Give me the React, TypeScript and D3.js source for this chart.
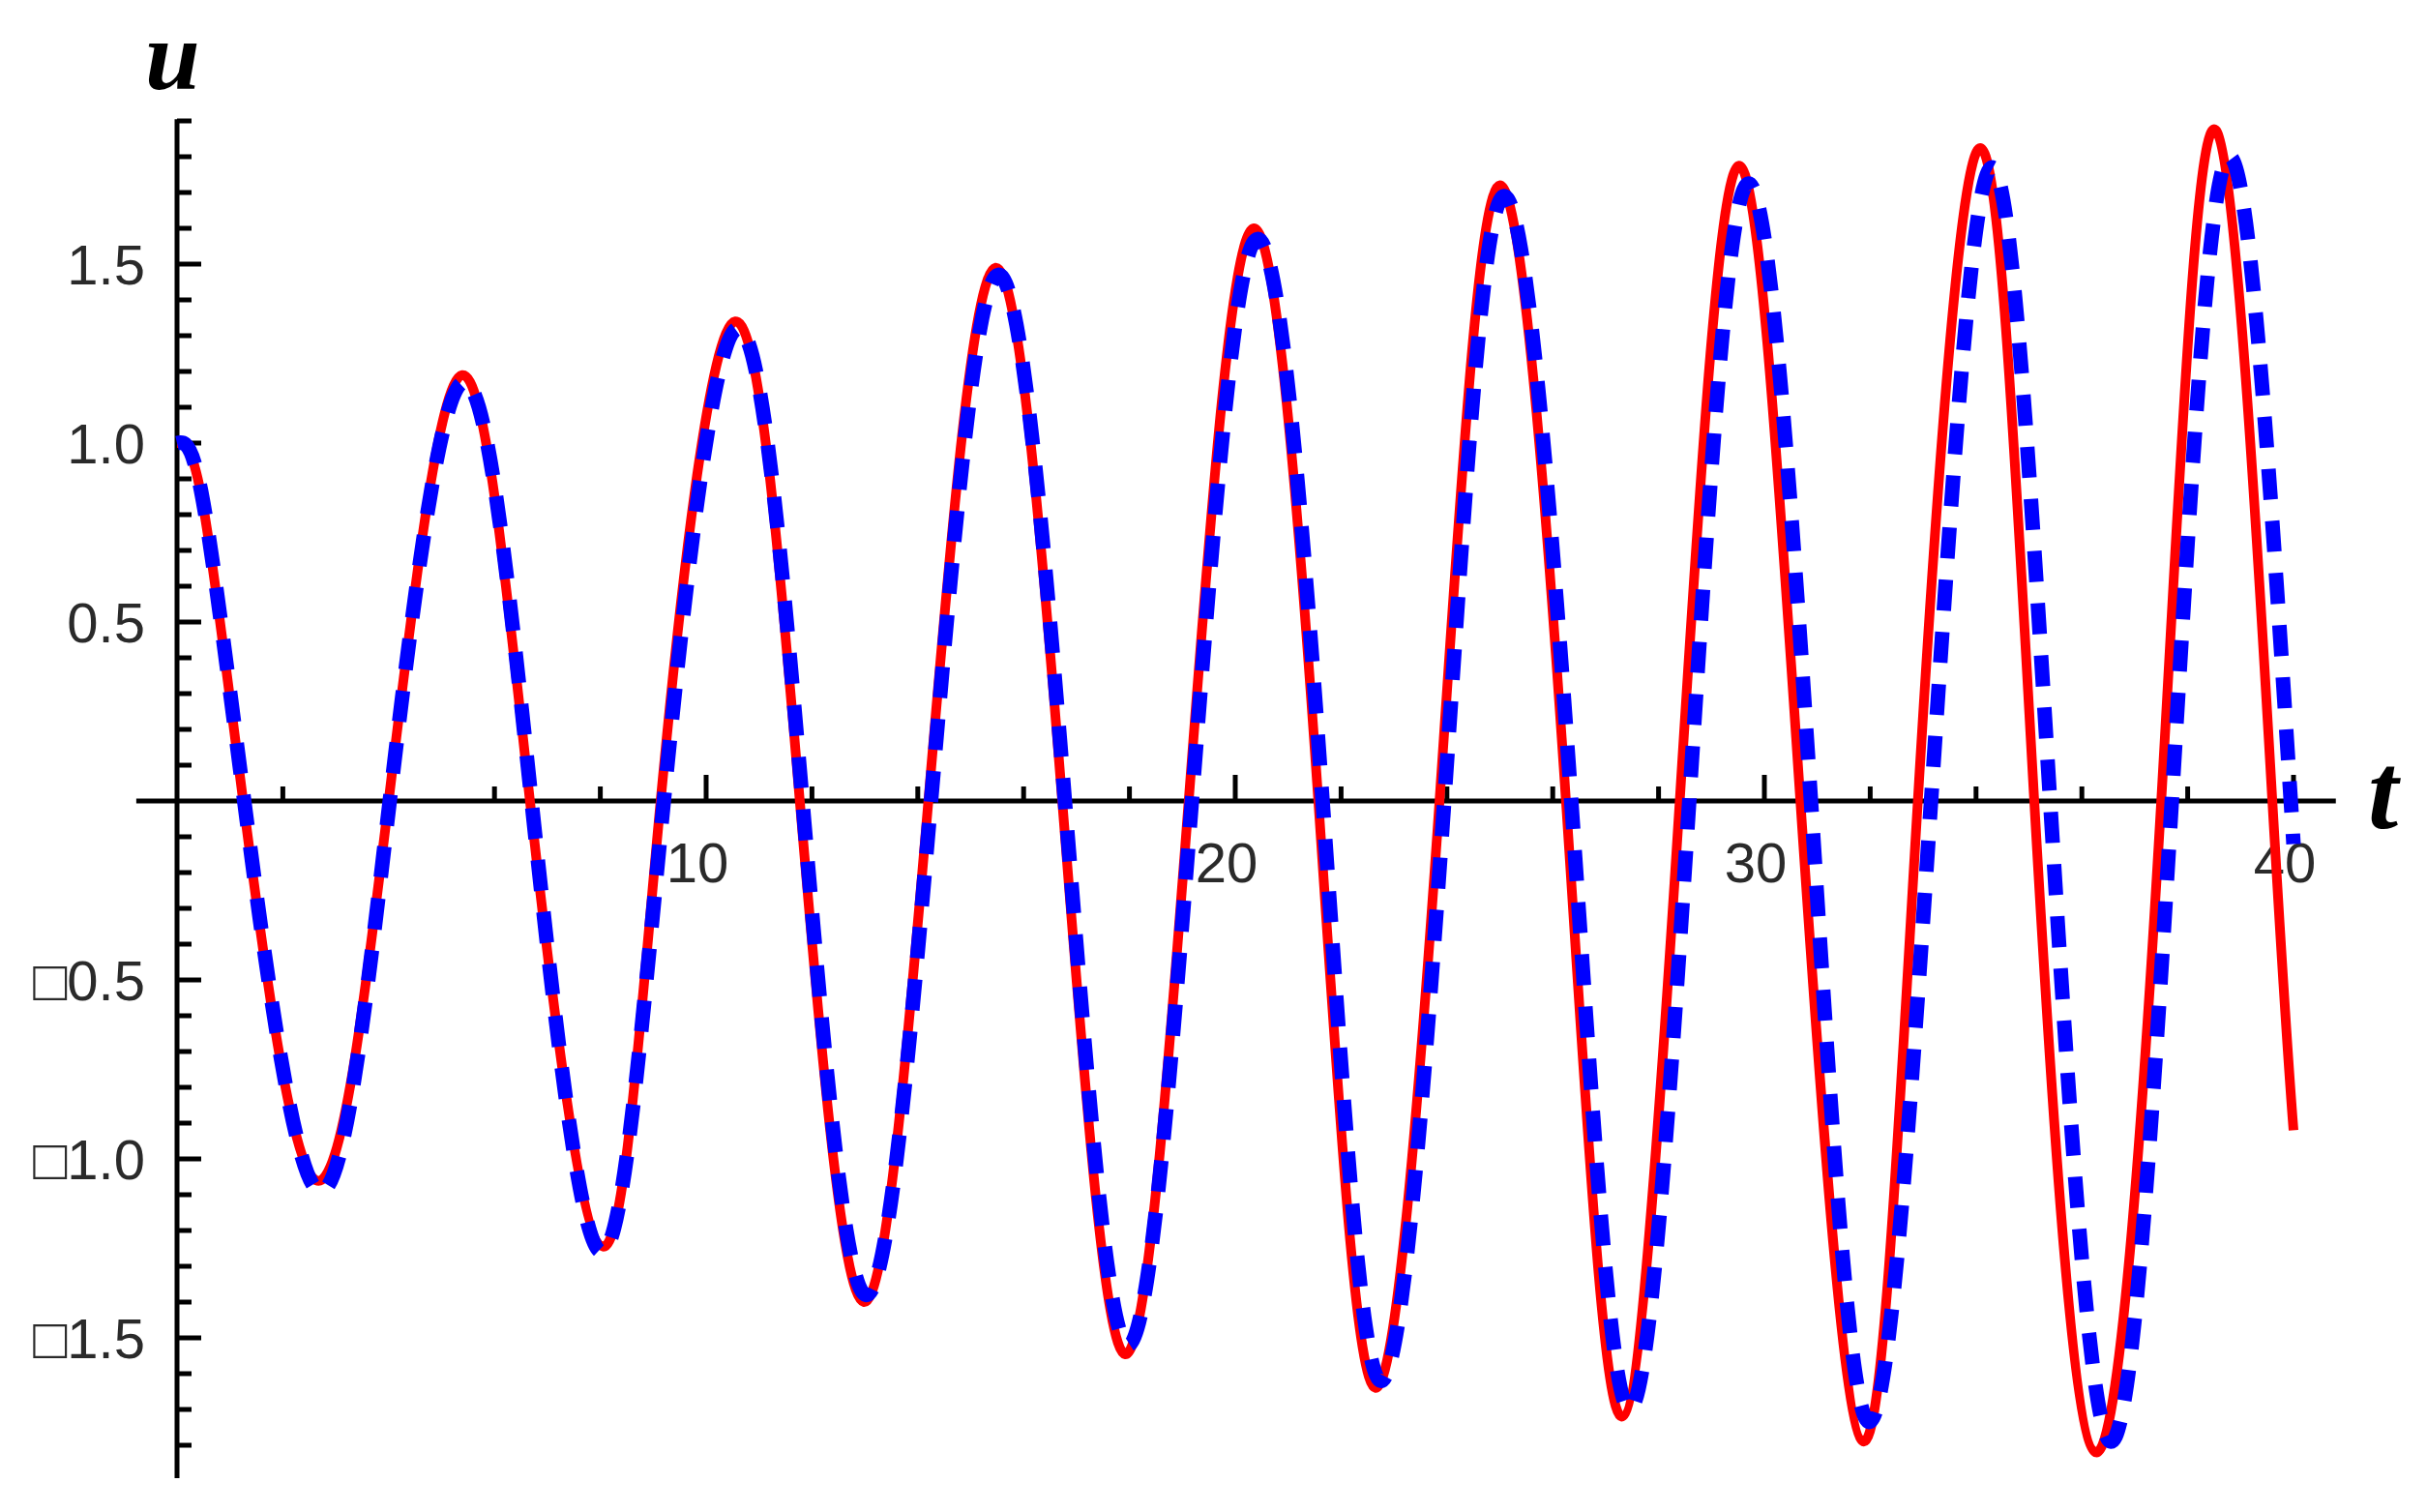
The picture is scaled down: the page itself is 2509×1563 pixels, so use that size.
import React, { useEffect } from "react";
import * as d3 from "d3";

// Red (solid) series: t values and u values
const redT = [0, 0.45, 1.25, 2.63, 4.0, 5.39, 6.67, 8.05, 9.14, 10.55, 11.77, 12.98, 14.2, 15.47, 16.73, 17.92, 19.12, 20.35, 21.57, 22.65, 23.86, 25.0, 26.25, 27.3, 28.4, 29.52, 30.68, 31.88, 32.9, 34.08, 35.1, 36.27, 37.5, 38.54, 39.6, 40.0];
const redU = [1.0, 0.86, 0, -1.06, 0, 1.19, 0, -1.245, 0, 1.34, 0, -1.4, 0, 1.49, 0, -1.546, 0, 1.6, 0, -1.64, 0, 1.72, 0, -1.72, 0, 1.775, 0, -1.79, 0, 1.824, 0, -1.82, 0, 1.873, 0, -0.92];

// Blue (dashed) series
const blueT = [0, 0.45, 1.27, 2.68, 4.02, 5.42, 6.7, 8.02, 9.2, 10.6, 11.82, 13.02, 14.25, 15.52, 16.78, 17.97, 19.18, 20.42, 21.65, 22.75, 23.95, 25.08, 26.35, 27.45, 28.58, 29.7, 30.88, 31.98, 33.15, 34.3, 35.4, 36.55, 37.7, 38.8, 40.0];
const blueU = [1.0, 0.87, 0, -1.09, 0, 1.17, 0, -1.26, 0, 1.32, 0, -1.38, 0, 1.47, 0, -1.52, 0, 1.57, 0, -1.62, 0, 1.69, 0, -1.7, 0, 1.725, 0, -1.735, 0, 1.77, 0, -1.79, 0, 1.8, -0.12];

// Ticks
const xMajorTicks = [10, 20, 30, 40];
const xTickLabels = ["10", "20", "30", "40"];
const xMinorTicks = [2, 4, 6, 8, 12, 14, 16, 18, 22, 24, 26, 28, 32, 34, 36, 38];
const yMajorTicks = [1.5, 1.0, 0.5, -0.5, -1.0, -1.5];
const yTickLabels = ["1.5", "1.0", "0.5", "\u25A10.5", "\u25A11.0", "\u25A11.5"];
const yMinorTicks = [1.9, 1.8, 1.7, 1.6, 1.4, 1.3, 1.2, 1.1, 0.9, 0.8, 0.7, 0.6, 0.4, 0.3, 0.2, 0.1, -0.1, -0.2, -0.3, -0.4, -0.6, -0.7, -0.8, -0.9, -1.1, -1.2, -1.3, -1.4, -1.6, -1.7, -1.8];

const W = 2509;
const H = 1563;

export default function App() {
  useEffect(() => {
    document.body.style.margin = "0";
    document.body.style.overflow = "hidden";
  }, []);

  const x = d3.scaleLinear().domain([0, 40]).range([183, 2371]);
  const y = d3.scaleLinear().domain([-1.9, 1.9]).range([1531, 125]);

  const line = d3
    .line<[number, number]>()
    .x((d) => x(d[0]))
    .y((d) => y(d[1]))
    .curve(d3.curveNatural);

  const red = redT.map((t, i) => [t, redU[i]] as [number, number]);
  const blue = blueT.map((t, i) => [t, blueU[i]] as [number, number]);

  const x0 = x(0);
  const y0 = y(0);
  const axisW = 5;
  const tickW = 5;
  const labelFont = "'Liberation Sans', Arial, sans-serif";
  const labelColor = "#2a2a2a";

  return (
    <svg
      width={W}
      height={H}
      style={{ position: "absolute", left: 0, top: 0, background: "#fff" }}
    >
      <rect x={0} y={0} width={W} height={H} fill="#ffffff" />
      {/* axes */}
      <line x1={x(-0.77)} x2={x(40.8)} y1={y0} y2={y0} stroke="#000" strokeWidth={axisW} />
      <line x1={x0} x2={x0} y1={y(1.905)} y2={y(-1.892)} stroke="#000" strokeWidth={axisW} />

      {/* x ticks */}
      {xMinorTicks.map((t) => (
        <line key={"xm" + t} x1={x(t)} x2={x(t)} y1={y0} y2={y0 - 15} stroke="#000" strokeWidth={tickW} />
      ))}
      {xMajorTicks.map((t) => (
        <line key={"xM" + t} x1={x(t)} x2={x(t)} y1={y0} y2={y0 - 27} stroke="#000" strokeWidth={tickW} />
      ))}
      {xMajorTicks.map((t, i) => (
        <text
          key={"xl" + t}
          x={x(t) - 9}
          y={y0 + 84}
          textAnchor="middle"
          fontFamily={labelFont}
          fontSize={58}
          fill={labelColor}
        >
          {xTickLabels[i]}
        </text>
      ))}

      {/* y ticks */}
      {yMinorTicks.map((v) => (
        <line key={"ym" + v} x1={x0} x2={x0 + 15} y1={y(v)} y2={y(v)} stroke="#000" strokeWidth={tickW} />
      ))}
      {yMajorTicks.map((v) => (
        <line key={"yM" + v} x1={x0} x2={x0 + 25} y1={y(v)} y2={y(v)} stroke="#000" strokeWidth={tickW} />
      ))}
      {yMajorTicks.map((v, i) => (
        <text
          key={"yl" + v}
          x={150}
          y={y(v) + 21}
          textAnchor="end"
          fontFamily={labelFont}
          fontSize={58}
          fill={labelColor}
        >
          {yTickLabels[i]}
        </text>
      ))}

      {/* curves */}
      <path d={line(red) || ""} fill="none" stroke="#ff0000" strokeWidth={10} strokeLinejoin="round" />
      <path
        d={line(blue) || ""}
        fill="none"
        stroke="#0000ff"
        strokeWidth={15}
        strokeDasharray="32 22"
        strokeLinecap="butt"
      />

      {/* axis labels */}
      <text
        x={150}
        y={92}
        fontFamily="'Liberation Serif', 'Times New Roman', serif"
        fontStyle="italic"
        fontWeight="bold"
        fontSize={102}
        fill="#000"
      >
        u
      </text>
      <text
        x={2448}
        y={856}
        fontFamily="'Liberation Serif', 'Times New Roman', serif"
        fontStyle="italic"
        fontWeight="bold"
        fontSize={112}
        fill="#000"
      >
        t
      </text>
    </svg>
  );
}
